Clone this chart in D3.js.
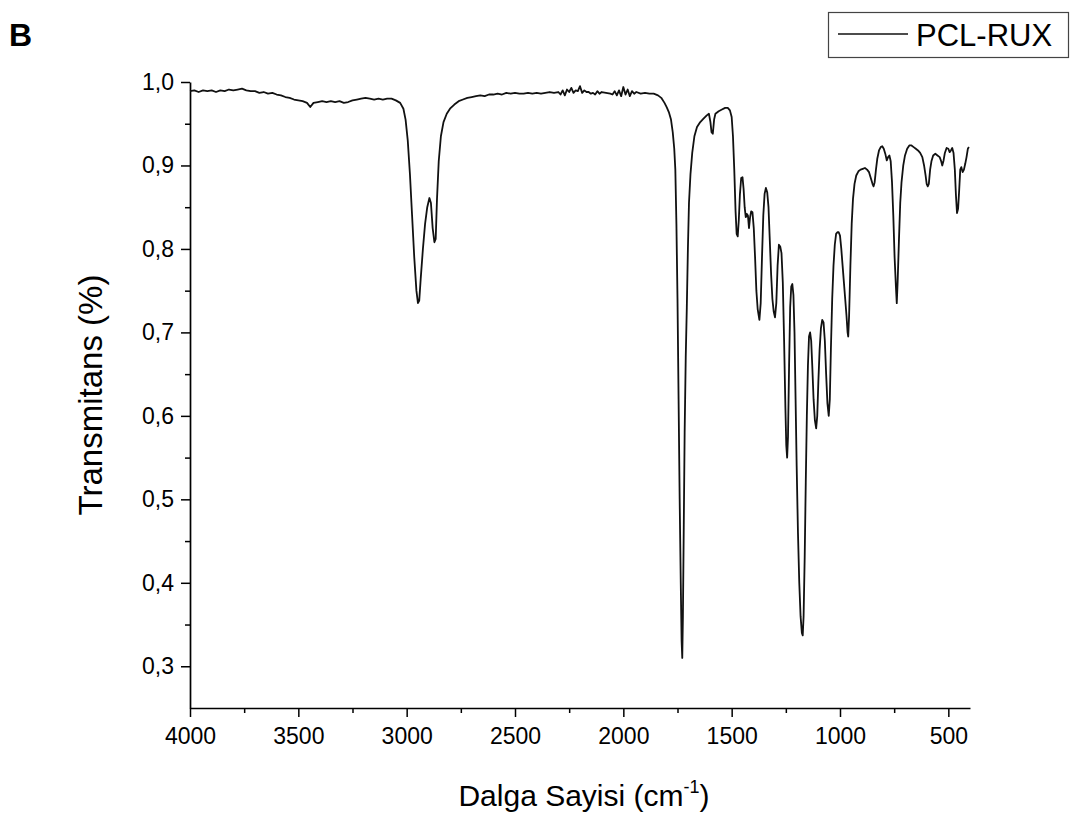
<!DOCTYPE html>
<html>
<head>
<meta charset="utf-8">
<script src="https://cdn.jsdelivr.net/npm/d3@7"></script>
<style>
  body { margin: 0; background: #fff; }
  text { font-family: "Liberation Sans", Arial, sans-serif; fill: #000; }
</style>
</head>
<body>
<svg id="drawing_region"></svg>
<script>
// wavenumber (cm-1) and transmittance
const wavenumbers = [
  4000, 3980, 3960, 3940, 3920, 3900, 3880, 3860, 3840, 3820, 3800, 3780, 3760, 3740, 3720, 3700,
  3680, 3660, 3640, 3620, 3600, 3580, 3560, 3540, 3520, 3500, 3480, 3460, 3445, 3430, 3410, 3390,
  3370, 3350, 3330, 3310, 3290, 3270, 3250, 3230, 3210, 3190, 3170, 3150, 3130, 3110, 3090, 3070,
  3050, 3030, 3015, 3005, 2995, 2985, 2975, 2965, 2955, 2948, 2942, 2935, 2925, 2915, 2905, 2895,
  2888, 2880, 2872, 2866, 2860, 2852, 2842, 2830, 2815, 2800, 2780, 2760, 2740, 2720, 2700, 2680,
  2660, 2640, 2620, 2600, 2580, 2560, 2540, 2520, 2500, 2480, 2460, 2440, 2420, 2400, 2380, 2360,
  2340, 2320, 2300, 2290, 2280, 2270, 2260, 2250, 2240, 2230, 2220, 2210, 2200, 2190, 2180, 2170,
  2160, 2150, 2140, 2130, 2120, 2110, 2100, 2080, 2060, 2050, 2040, 2030, 2020, 2010, 2000, 1990,
  1980, 1970, 1960, 1950, 1940, 1920, 1900, 1880, 1860, 1840, 1825, 1810, 1800, 1790, 1780, 1772,
  1765, 1760, 1755, 1750, 1745, 1740, 1735, 1731, 1728, 1725, 1721, 1717, 1712, 1707, 1702, 1697,
  1690, 1682, 1672, 1660, 1645, 1630, 1615, 1605, 1598, 1593, 1587, 1581, 1575, 1560, 1545, 1530,
  1518, 1508, 1500, 1494, 1488, 1482, 1477, 1472, 1467, 1462, 1456, 1450, 1445, 1440, 1435, 1430,
  1425, 1420, 1415, 1410, 1404, 1398, 1392, 1386, 1380, 1372, 1366, 1360, 1354, 1348, 1342, 1336,
  1330, 1324, 1318, 1312, 1306, 1300, 1294, 1288, 1282, 1276, 1270, 1264, 1258, 1252, 1248, 1244,
  1240, 1235, 1230, 1225, 1220, 1215, 1210, 1205, 1200, 1194, 1188, 1182, 1176, 1172, 1168, 1163,
  1158, 1153, 1148, 1143, 1138, 1133, 1128, 1122, 1116, 1110, 1105, 1100, 1094, 1088, 1082, 1076,
  1070, 1064, 1058, 1052, 1047, 1042, 1036, 1030, 1024, 1018, 1012, 1006, 1000, 994, 988, 982,
  976, 970, 965, 962, 958, 952, 946, 940, 933, 925, 915, 905, 895, 885, 875, 866,
  858, 850, 845, 840, 834, 828, 820, 812, 805, 798, 790, 784, 778, 772, 766, 760,
  754, 748, 742, 738, 734, 728, 722, 716, 708, 700, 690, 680, 670, 660, 650, 640,
  630, 620, 612, 605, 600, 595, 590, 584, 578, 570, 560, 550, 540, 533, 528, 522,
  516, 508, 500, 494, 488, 482, 476, 470, 465, 460, 455, 450, 445, 440, 434, 428,
  422, 416, 410, 405
];
const transmittance = [
  0.989, 0.990, 0.988, 0.990, 0.989, 0.990, 0.988, 0.990, 0.989, 0.991, 0.990, 0.991, 0.992, 0.990, 0.989, 0.989,
  0.987, 0.988, 0.986, 0.987, 0.985, 0.984, 0.982, 0.981, 0.979, 0.978, 0.977, 0.975, 0.970, 0.975, 0.976, 0.977,
  0.976, 0.977, 0.976, 0.977, 0.975, 0.976, 0.978, 0.979, 0.980, 0.981, 0.980, 0.979, 0.980, 0.979, 0.980, 0.980,
  0.978, 0.975, 0.968, 0.955, 0.930, 0.890, 0.840, 0.790, 0.750, 0.735, 0.738, 0.765, 0.800, 0.830, 0.850, 0.861,
  0.855, 0.825, 0.808, 0.812, 0.860, 0.905, 0.935, 0.952, 0.962, 0.968, 0.973, 0.977, 0.979, 0.981, 0.982, 0.983,
  0.984, 0.983, 0.985, 0.985, 0.986, 0.985, 0.987, 0.986, 0.987, 0.986, 0.986, 0.987, 0.986, 0.987, 0.986, 0.987,
  0.988, 0.987, 0.988, 0.985, 0.990, 0.984, 0.991, 0.988, 0.993, 0.987, 0.990, 0.989, 0.995, 0.987, 0.990, 0.988,
  0.988, 0.986, 0.987, 0.985, 0.989, 0.986, 0.988, 0.987, 0.986, 0.985, 0.989, 0.984, 0.990, 0.983, 0.994, 0.985,
  0.991, 0.983, 0.989, 0.986, 0.988, 0.986, 0.987, 0.986, 0.986, 0.984, 0.981, 0.975, 0.970, 0.964, 0.955, 0.940,
  0.920, 0.895, 0.830, 0.740, 0.620, 0.500, 0.400, 0.330, 0.310, 0.360, 0.470, 0.580, 0.670, 0.730, 0.800, 0.855,
  0.890, 0.915, 0.935, 0.946, 0.952, 0.956, 0.960, 0.962, 0.952, 0.940, 0.938, 0.955, 0.962, 0.965, 0.967, 0.969,
  0.969, 0.966, 0.958, 0.935, 0.895, 0.845, 0.818, 0.815, 0.835, 0.865, 0.885, 0.886, 0.872, 0.850, 0.838, 0.842,
  0.840, 0.825, 0.838, 0.845, 0.844, 0.825, 0.790, 0.750, 0.728, 0.715, 0.735, 0.790, 0.840, 0.866, 0.873, 0.868,
  0.850, 0.810, 0.770, 0.740, 0.725, 0.718, 0.735, 0.780, 0.805, 0.803, 0.795, 0.760, 0.690, 0.610, 0.565, 0.550,
  0.575, 0.660, 0.730, 0.755, 0.758, 0.745, 0.700, 0.620, 0.540, 0.460, 0.400, 0.360, 0.340, 0.337, 0.360, 0.430,
  0.520, 0.600, 0.660, 0.695, 0.700, 0.690, 0.660, 0.620, 0.595, 0.585, 0.600, 0.640, 0.680, 0.705, 0.715, 0.712,
  0.690, 0.650, 0.615, 0.600, 0.620, 0.680, 0.740, 0.780, 0.805, 0.818, 0.820, 0.820, 0.816, 0.800, 0.780, 0.760,
  0.740, 0.720, 0.700, 0.695, 0.720, 0.780, 0.830, 0.860, 0.878, 0.888, 0.893, 0.895, 0.896, 0.897, 0.895, 0.892,
  0.885, 0.878, 0.875, 0.880, 0.895, 0.908, 0.918, 0.922, 0.923, 0.920, 0.913, 0.906, 0.910, 0.912, 0.905, 0.880,
  0.840, 0.790, 0.755, 0.735, 0.760, 0.810, 0.855, 0.880, 0.900, 0.912, 0.920, 0.924, 0.924, 0.922, 0.920, 0.918,
  0.915, 0.910, 0.900, 0.888, 0.878, 0.875, 0.878, 0.895, 0.905, 0.912, 0.914, 0.912, 0.910, 0.905, 0.900, 0.906,
  0.915, 0.921, 0.920, 0.916, 0.918, 0.921, 0.915, 0.895, 0.865, 0.843, 0.848, 0.870, 0.895, 0.898, 0.892, 0.895,
  0.902, 0.910, 0.920, 0.922
];
const xTicks = [4000, 3500, 3000, 2500, 2000, 1500, 1000, 500];
const xMinorTicks = [3750, 3250, 2750, 2250, 1750, 1250, 750];
const yTicks = [0.3, 0.4, 0.5, 0.6, 0.7, 0.8, 0.9, 1.0];
const yMinorTicks = [0.35, 0.45, 0.55, 0.65, 0.75, 0.85, 0.95];
const seriesName = 'PCL-RUX';

const width = 1072, height = 819;
const margin = { top: 82, right: 102, bottom: 111, left: 190 };
const innerW = width - margin.left - margin.right;
const innerH = height - margin.top - margin.bottom;

const svg = d3.select('#drawing_region')
  .attr('width', width)
  .attr('height', height);

const chart = svg.append('g')
  .attr('transform', `translate(${margin.left}, ${margin.top})`);

const xscale = d3.scaleLinear().domain([4000, 400]).range([0, innerW]);
const yscale = d3.scaleLinear().domain([0.25, 1.0]).range([innerH, 0]);

const comma = d => d3.format('.1f')(d).replace('.', ',');

// minor ticks first, then the major axes on top
chart.append('g')
  .attr('transform', `translate(0, ${innerH})`)
  .call(d3.axisBottom(xscale).tickValues(xMinorTicks).tickSize(5).tickFormat(''))
  .call(g => g.select('.domain').remove());
chart.append('g')
  .call(d3.axisLeft(yscale).tickValues(yMinorTicks).tickSize(5).tickFormat(''))
  .call(g => g.select('.domain').remove());

const xaxis_group = chart.append('g')
  .attr('transform', `translate(0, ${innerH})`)
  .call(d3.axisBottom(xscale).tickValues(xTicks).tickSize(9).tickSizeOuter(0).tickPadding(11).tickFormat(d3.format('d')));
const yaxis_group = chart.append('g')
  .call(d3.axisLeft(yscale).tickValues(yTicks).tickSize(9).tickSizeOuter(0).tickPadding(7).tickFormat(comma));

chart.selectAll('.tick line').attr('stroke', '#000').attr('stroke-width', 1.5);
chart.selectAll('.domain').attr('stroke', '#000').attr('stroke-width', 1.7);
xaxis_group.selectAll('text').style('font-size', '23px');
yaxis_group.selectAll('text').style('font-size', '23px');

// spectrum
const points = wavenumbers.map((w, i) => ({ w: w, t: transmittance[i] }));
chart.append('path')
  .datum(points)
  .attr('fill', 'none')
  .attr('stroke', '#111')
  .attr('stroke-width', 1.8)
  .attr('stroke-linejoin', 'round')
  .attr('d', d3.line().x(d => xscale(d.w)).y(d => yscale(d.t)));

// axis titles
svg.append('text')
  .attr('transform', 'rotate(-90)')
  .attr('x', -395)
  .attr('y', 102)
  .attr('text-anchor', 'middle')
  .style('font-size', '33px')
  .text('Transmitans (%)');

const xlabel = svg.append('text')
  .attr('x', 584)
  .attr('y', 806)
  .attr('text-anchor', 'middle')
  .style('font-size', '30px');
xlabel.append('tspan').text('Dalga Sayisi (cm');
xlabel.append('tspan').attr('dy', -13).style('font-size', '18px').text('-1');
xlabel.append('tspan').attr('dy', 13).text(')');

// panel letter
svg.append('text')
  .attr('x', 9)
  .attr('y', 46)
  .style('font-size', '32px')
  .style('font-weight', 'bold')
  .text('B');

// legend
const legend = svg.append('g');
legend.append('rect')
  .attr('x', 828.5).attr('y', 12.5)
  .attr('width', 240).attr('height', 45)
  .attr('fill', 'none')
  .attr('stroke', '#444')
  .attr('stroke-width', 1.2);
legend.append('line')
  .attr('x1', 838).attr('x2', 908)
  .attr('y1', 34).attr('y2', 34)
  .attr('stroke', '#111')
  .attr('stroke-width', 1.6);
legend.append('text')
  .attr('x', 916)
  .attr('y', 46)
  .style('font-size', '31px')
  .text(seriesName);
</script>
</body>
</html>
